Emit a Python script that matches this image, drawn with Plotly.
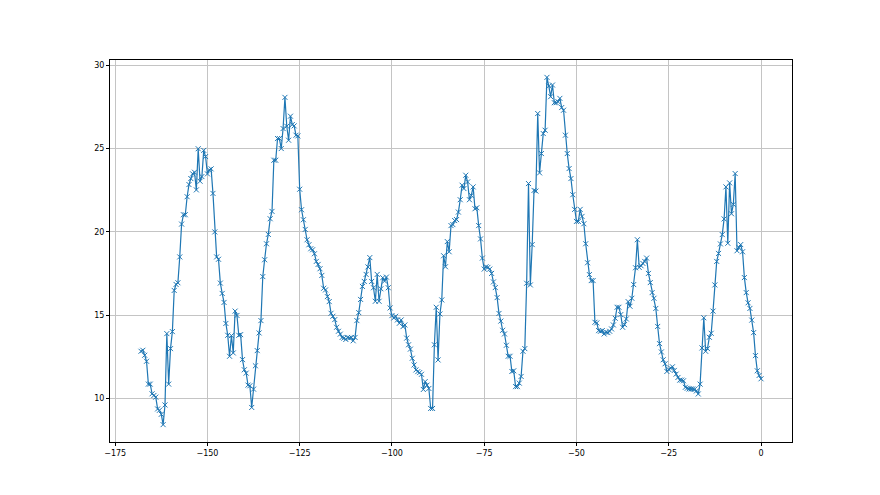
import numpy as np
import plotly.graph_objects as go

# Values, in time order (half-hour steps from -168 to 0)
seg1 = [12.83, 12.89, 12.59, 12.23, 10.86, 10.86, 10.28, 10.18, 10.08, 9.37, 9.29, 9.05, 8.43, 9.61,
        13.89, 10.86, 12.99, 14.01, 16.48, 16.84, 16.94, 18.49, 20.46, 21.02, 21.02, 22.10, 22.83,
        23.19, 23.47, 23.57, 22.51, 24.98, 23.03, 23.31, 24.88, 24.51, 23.47, 23.71, 23.77, 22.30,
        19.99, 18.49, 18.35, 16.92, 16.30, 15.76, 14.50, 13.79, 12.53, 13.77, 12.73, 15.24, 14.98, 13.79]
seg2 = [13.83, 12.33, 11.72, 11.52, 10.80, 10.76, 9.46, 10.56, 11.96, 12.87, 13.93, 14.67, 17.31,
        18.32, 19.28, 19.84, 20.78, 21.22, 24.29, 24.29, 25.59, 25.59, 24.99, 26.19, 28.06, 26.33,
        25.49, 26.93, 26.43, 26.35, 25.79, 25.75, 22.55, 21.32, 20.72, 20.14, 19.52, 19.22, 18.98,
        18.92, 18.68, 18.22, 18.04, 17.78, 17.38, 16.61, 16.51, 16.11, 15.81, 15.11, 14.93, 14.73,
        14.27, 14.03]
seg3 = [13.86, 13.66, 13.62, 13.54, 13.66, 13.62, 13.66, 13.46, 13.66, 14.67, 15.15, 15.94, 16.72,
        17.02, 17.44, 17.89, 18.45, 17.02, 16.64, 15.83, 17.44, 15.83, 16.58, 17.24, 17.04, 17.28,
        16.64, 15.43, 14.97, 14.83, 14.93, 14.71, 14.51, 14.71, 14.31, 14.41, 13.62, 13.22, 12.96,
        12.41, 12.01, 11.71, 11.61, 11.55, 11.45, 10.54, 11.01, 10.80, 10.60, 9.40, 9.40, 13.22,
        15.47, 12.31, 15.07]
seg4 = [15.91, 18.56, 17.90, 19.41, 18.80, 20.37, 20.43, 20.67, 20.73, 21.18, 21.92, 22.79, 22.59,
        23.39, 22.99, 21.92, 22.18, 22.69, 21.38, 21.44, 20.37, 19.57, 18.42, 17.76, 17.90, 17.86,
        17.76, 17.50, 16.99, 16.65, 16.05, 15.10, 14.64, 14.09, 13.87, 13.19, 12.53, 12.53, 11.62,
        11.66, 10.71, 10.71, 10.92, 11.32, 12.83, 12.99, 16.91, 22.89, 16.81, 19.23, 22.48, 22.44]
seg5 = [27.09, 23.53, 24.69, 25.89, 26.09, 29.26, 28.74, 28.10, 28.80, 27.74, 27.74, 27.80, 28.00,
        27.45, 27.29, 25.79, 24.69, 23.79, 23.19, 22.22, 21.34, 20.62, 20.62, 21.34, 20.92, 20.48,
        19.28, 18.14, 17.43, 17.07, 17.07, 14.57, 14.53, 14.07, 14.03, 14.07, 13.87, 13.97, 13.95,
        14.03, 14.17, 14.41, 14.81, 15.47, 15.47, 15.03, 14.27, 14.43, 14.77, 15.81, 15.53, 16.01,
        16.83, 17.84, 19.52, 17.86]
seg6 = [17.96, 18.10, 18.22, 18.42, 17.50, 16.95, 16.35, 16.01, 15.40, 14.32, 13.29, 12.79, 12.32,
        12.08, 11.62, 11.74, 11.82, 11.90, 11.68, 11.46, 11.26, 11.10, 11.10, 11.06, 10.67, 10.61,
        10.57, 10.57, 10.57, 10.55, 10.45, 10.27, 10.86, 13.03, 14.84, 12.83, 12.99, 13.67, 13.91,
        15.24, 16.81, 18.22, 18.70, 19.27, 19.83, 20.77, 22.69, 19.31, 22.93, 21.08, 21.64, 23.49,
        18.86, 19.06, 19.23, 18.80, 17.25, 16.35, 15.74, 15.40, 14.70, 13.95, 12.57, 11.66, 11.38,
        11.18]

values = seg1 + seg2 + seg3 + seg4 + seg5 + seg6
t_start, t_end = -168.0, 0.0
times = np.linspace(t_start, t_end, len(values))

x_ticks = [-175, -150, -125, -100, -75, -50, -25, 0]
y_ticks = [10, 15, 20, 25, 30]

def mlabel(v):
    return str(v).replace("-", "\u2212")

# matplotlib-like 5% margins
xr = t_end - t_start
yr = max(values) - min(values)
x_range = [t_start - 0.05 * xr, t_end + 0.05 * xr]
y_range = [min(values) - 0.05 * yr, max(values) + 0.05 * yr]

fig = go.Figure(go.Scatter(
    x=times, y=values, mode="lines+markers",
    line=dict(color="#1f77b4", width=1.2),
    marker=dict(symbol="x-thin", size=5, color="#1f77b4",
                line=dict(width=1, color="#1f77b4")),
    showlegend=False,
))

axis_common = dict(
    showline=True, mirror=True, linecolor="#000000", linewidth=1,
    ticks="outside", ticklen=3, tickwidth=1, tickcolor="#000000",
    showgrid=True, gridcolor="#c4c4c4", gridwidth=1, zeroline=False,
    tickfont=dict(family="DejaVu Sans", size=8, color="#000000"),
)

fig.update_xaxes(range=x_range, tickvals=x_ticks, ticktext=[mlabel(v) for v in x_ticks], **axis_common)
fig.update_yaxes(range=y_range, tickvals=y_ticks, ticktext=[mlabel(v) for v in y_ticks], **axis_common)

fig.update_layout(
    width=880, height=495,
    margin=dict(l=102, r=96, t=52, b=61),
    paper_bgcolor="#ffffff", plot_bgcolor="#ffffff",
    font=dict(family="DejaVu Sans"),
)

fig.write_html("out.html")
